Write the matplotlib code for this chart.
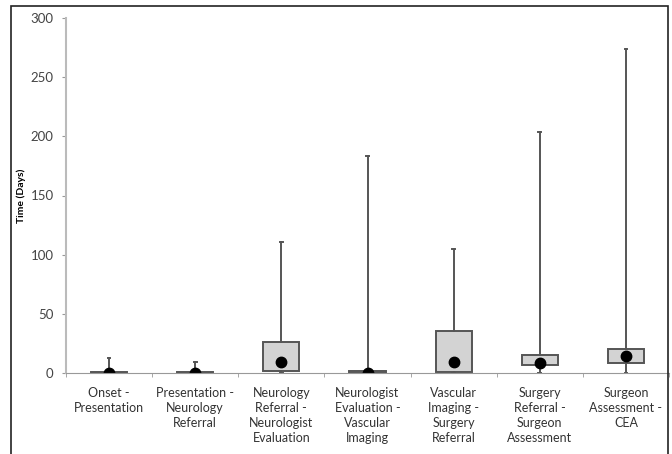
import matplotlib.pyplot as plt
from matplotlib.patches import Rectangle

plt.rcParams['font.family'] = ['Lato', 'DejaVu Sans']

categories = ["Onset -\nPresentation",
              "Presentation -\nNeurology\nReferral",
              "Neurology\nReferral -\nNeurologist\nEvaluation",
              "Neurologist\nEvaluation -\nVascular\nImaging",
              "Vascular\nImaging -\nSurgery\nReferral",
              "Surgery\nReferral -\nSurgeon\nAssessment",
              "Surgeon\nAssessment -\nCEA"]
whis_lo = [0, 0, 0, 0, 0, 0, 0]
q1 = [0, 0, 2, 0, 1, 7, 8.5]
q3 = [1, 1, 26, 1.5, 35.5, 15, 20.5]
whis_hi = [13, 9, 111, 183, 105, 204, 274]
centre = [0, 0, 9, 0, 9, 8.5, 14.3]

stats = []
for i in range(len(categories)):
    stats.append(dict(whislo=whis_lo[i], q1=q1[i], med=centre[i], q3=q3[i],
                      whishi=whis_hi[i], mean=centre[i], fliers=[]))

fig = plt.figure(figsize=(6.72, 4.54), dpi=100)
ax = fig.add_axes([66/672, 1-373/454, (669-66)/672, (373-18)/454])

edge = '#555555'
ax.bxp(stats, positions=range(1, 8), widths=0.42, patch_artist=True,
       showmeans=True, capwidths=0.03,
       boxprops=dict(facecolor='#d3d3d3', edgecolor=edge, linewidth=1.4),
       whiskerprops=dict(color=edge, linewidth=1.4),
       capprops=dict(color=edge, linewidth=1.4),
       medianprops=dict(linewidth=0),
       meanprops=dict(marker='o', markerfacecolor='black', markeredgecolor='black',
                      markersize=7.5))

ax.set_xlim(0.5, 7.5)
ax.set_ylim(0, 300)
ax.set_yticks(range(0, 301, 50))
ax.set_xticks(range(1, 8))
ax.set_xticklabels(categories, fontsize=9, color='#333333', linespacing=1.3)
ax.set_xticks([i + 0.5 for i in range(0, 8)], minor=True)
ax.tick_params(axis='x', which='major', length=0, pad=10)
ax.tick_params(axis='x', which='minor', length=3, color='#999999')
ax.tick_params(axis='y', length=3, color='#999999', labelsize=9.5, labelcolor='#444444', pad=6)
for s in ['top', 'right']:
    ax.spines[s].set_visible(False)
ax.spines['left'].set_color('#bbbbbb')
ax.spines['left'].set_linewidth(1.5)
ax.spines['bottom'].set_color('#999999')
ax.set_ylabel('Time (Days)', fontsize=7.5, fontweight='bold', labelpad=3)

fig.patches.append(Rectangle((11/672, -0.05), (668-11)/672, 1-6/454+0.05,
                             transform=fig.transFigure, fill=False,
                             edgecolor='#222222', linewidth=1.2))

fig.savefig('out.png', dpi=100)
